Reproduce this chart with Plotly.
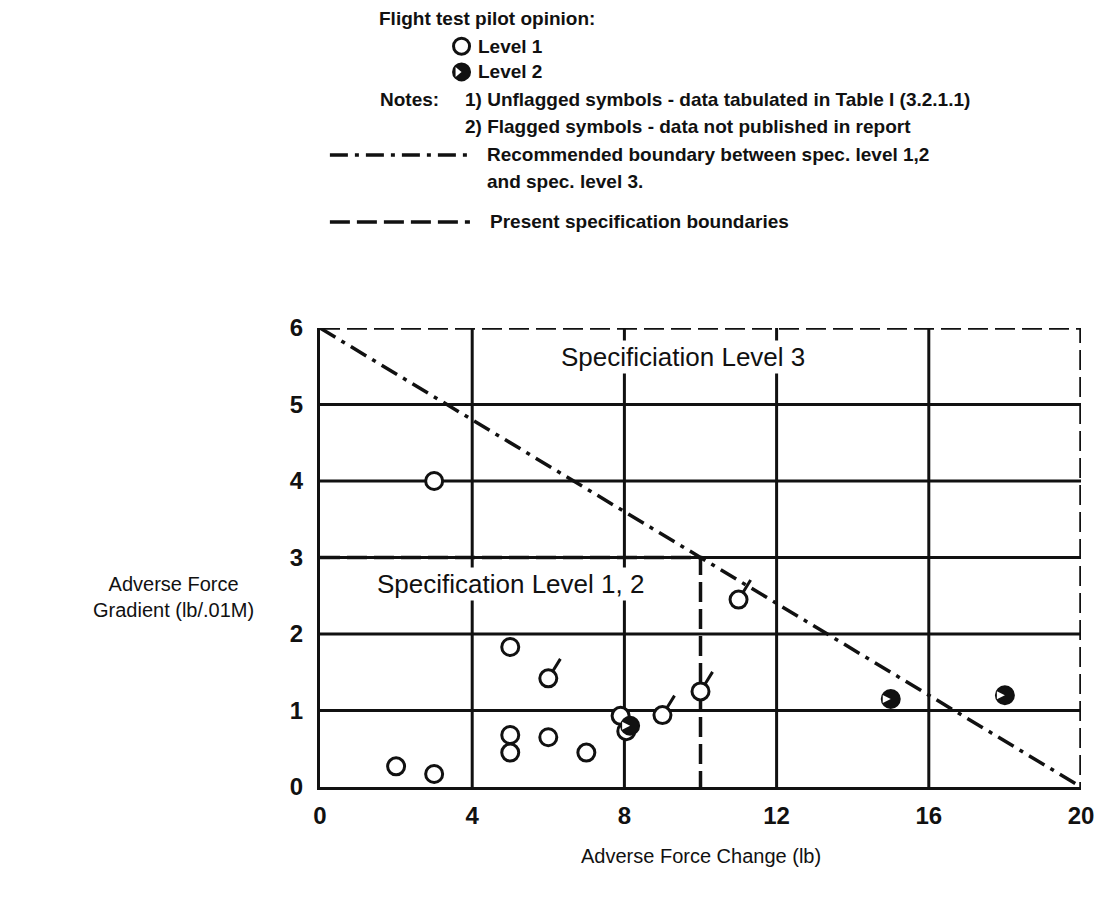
import plotly.graph_objects as go

# ---------------- data ----------------
x_ticks = [0, 4, 8, 12, 16, 20]
y_ticks = [0, 1, 2, 3, 4, 5, 6]

level1_x = [2, 3, 3, 5, 5, 5, 6, 7, 7.9, 8.05]
level1_y = [0.27, 0.17, 4.0, 1.83, 0.68, 0.45, 0.65, 0.45, 0.93, 0.73]

flagged_x = [6, 9, 10, 11]
flagged_y = [1.42, 0.94, 1.25, 2.45]

level2_x = [8.15, 15, 18]
level2_y = [0.80, 1.15, 1.20]

recommended_x = [0, 20]
recommended_y = [6, 0]

spec_outer_x = [0, 20, 20]
spec_outer_y = [6, 6, 0]
spec_inner_x = [0, 10, 10]
spec_inner_y = [3, 3, 0]

FONT = "Liberation Sans, Arial, sans-serif"
INK = "#111111"
DASH = "20px,7px"
DASHDOT = "18px,7px,4px,7px"

fig = go.Figure()

# boundaries
fig.add_trace(go.Scatter(x=spec_outer_x, y=spec_outer_y, mode="lines",
                         line=dict(color=INK, width=3.5, dash=DASH),
                         hoverinfo="skip", showlegend=False, cliponaxis=False))
fig.add_trace(go.Scatter(x=spec_inner_x, y=spec_inner_y, mode="lines",
                         line=dict(color=INK, width=3.5, dash=DASH),
                         hoverinfo="skip", showlegend=False))
fig.add_trace(go.Scatter(x=recommended_x, y=recommended_y, mode="lines",
                         line=dict(color=INK, width=3.5, dash=DASHDOT),
                         hoverinfo="skip", showlegend=False))

# level 1 points (open circles)
fig.add_trace(go.Scatter(x=level1_x + flagged_x, y=level1_y + flagged_y, mode="markers",
                         marker=dict(symbol="circle", size=17, color="white",
                                     line=dict(width=3, color=INK)),
                         showlegend=False, cliponaxis=False))

# level 2 points (half-filled circles: black disc with white notch on the left)
fig.add_trace(go.Scatter(x=level2_x, y=level2_y, mode="markers",
                         marker=dict(symbol="circle", size=18, color=INK,
                                     line=dict(width=2, color=INK)),
                         showlegend=False, cliponaxis=False))
fig.add_trace(go.Scatter(x=level2_x, y=level2_y, mode="markers",
                         marker=dict(symbol="arrow-right", size=8, color="white",
                                     line=dict(width=0)),
                         showlegend=False, cliponaxis=False))

# flags on flagged symbols
for fx, fy in zip(flagged_x, flagged_y):
    fig.add_annotation(x=fx, y=fy, xref="x", yref="y", text="", showarrow=True,
                       arrowhead=0, arrowwidth=3, arrowcolor=INK,
                       ax=13, ay=-21, standoff=9)

# grid lines (interior ticks only; edges carry the axis / dashed boundaries)
shapes = []
for xv in x_ticks[1:-1]:
    shapes.append(dict(type="line", xref="x", yref="y", x0=xv, x1=xv,
                       y0=y_ticks[0], y1=y_ticks[-1], layer="below",
                       line=dict(color=INK, width=3)))
for yv in y_ticks[1:-1]:
    shapes.append(dict(type="line", xref="x", yref="y", y0=yv, y1=yv,
                       x0=x_ticks[0], x1=x_ticks[-1], layer="below",
                       line=dict(color=INK, width=3)))

# legend line samples
shapes.append(dict(type="line", xref="paper", yref="paper", x0=0.013, x1=0.197,
                   y0=1.377, y1=1.377, line=dict(color=INK, width=3.5, dash=DASHDOT)))
shapes.append(dict(type="line", xref="paper", yref="paper", x0=0.013, x1=0.197,
                   y0=1.231, y1=1.231, line=dict(color=INK, width=3.5, dash=DASH)))

# legend symbols (pixel-sized circles anchored in paper space)
shapes.append(dict(type="circle", xref="paper", yref="paper", xsizemode="pixel", ysizemode="pixel",
                   xanchor=0.186, yanchor=1.614, x0=-8, x1=8, y0=-8, y1=8,
                   line=dict(color=INK, width=3), fillcolor="white"))
shapes.append(dict(type="circle", xref="paper", yref="paper", xsizemode="pixel", ysizemode="pixel",
                   xanchor=0.186, yanchor=1.558, x0=-8.5, x1=8.5, y0=-8.5, y1=8.5,
                   line=dict(color=INK, width=2), fillcolor=INK))
shapes.append(dict(type="path", xref="paper", yref="paper", xsizemode="pixel", ysizemode="pixel",
                   xanchor=0.186, yanchor=1.558, path="M 0,0 L -6,-5 L -6,5 Z",
                   line=dict(width=0), fillcolor="white"))

fig.update_layout(shapes=shapes)

def note(text, x, y, size=19, bold=True):
    fig.add_annotation(xref="paper", yref="paper", x=x, y=y, text=f"<b>{text}</b>" if bold else text,
                       showarrow=False, xanchor="left", yanchor="middle",
                       font=dict(family=FONT, size=size, color=INK))

note("Flight test pilot opinion:", 0.075, 1.674)
note("Level 1", 0.205, 1.614)
note("Level 2", 0.205, 1.558)
note("Notes:", 0.076, 1.497)
note("1) Unflagged symbols - data tabulated in Table I (3.2.1.1)", 0.188, 1.497)
note("2) Flagged symbols - data not published in report", 0.188, 1.438)
note("Recommended boundary between spec. level 1,2", 0.217, 1.377)
note("and spec. level 3.", 0.217, 1.320)
note("Present specification boundaries", 0.221, 1.231)

# region labels
fig.add_annotation(xref="x", yref="y", x=9.55, y=5.62, text="Specificiation Level 3",
                   showarrow=False, bgcolor="white", borderpad=1,
                   font=dict(family=FONT, size=26, color=INK))
fig.add_annotation(xref="x", yref="y", x=5.0, y=2.65, text="Specification Level 1, 2",
                   showarrow=False, bgcolor="white", borderpad=1,
                   font=dict(family=FONT, size=26, color=INK))

# axis titles
fig.add_annotation(xref="paper", yref="paper", x=-0.192, y=0.414, xanchor="center",
                   text="Adverse Force<br>Gradient (lb/.01M)", showarrow=False,
                   align="center", font=dict(family=FONT, size=20, color=INK))
fig.add_annotation(xref="paper", yref="paper", x=0.5, y=-0.178, xanchor="center",
                   text="Adverse Force Change (lb)", showarrow=False,
                   font=dict(family=FONT, size=20, color=INK))

fig.update_xaxes(range=[0, 20], tickvals=x_ticks, ticktext=[str(v) for v in x_ticks],
                 showgrid=False, zeroline=False, showline=True, linecolor=INK, linewidth=3,
                 ticks="", ticklabelstandoff=5, automargin=False,
                 tickfont=dict(family=FONT, size=24, color=INK, weight="bold"))
fig.update_yaxes(range=[0, 6], tickvals=y_ticks, ticktext=[str(v) for v in y_ticks],
                 showgrid=False, zeroline=False, showline=True, linecolor=INK, linewidth=3,
                 ticks="", ticklabelstandoff=9, automargin=False,
                 tickfont=dict(family=FONT, size=24, color=INK, weight="bold"))

fig.update_layout(width=1094, height=886, margin=dict(l=312, r=21, t=320, b=107),
                  paper_bgcolor="white", plot_bgcolor="white", showlegend=False)

fig.write_html("out.html")
